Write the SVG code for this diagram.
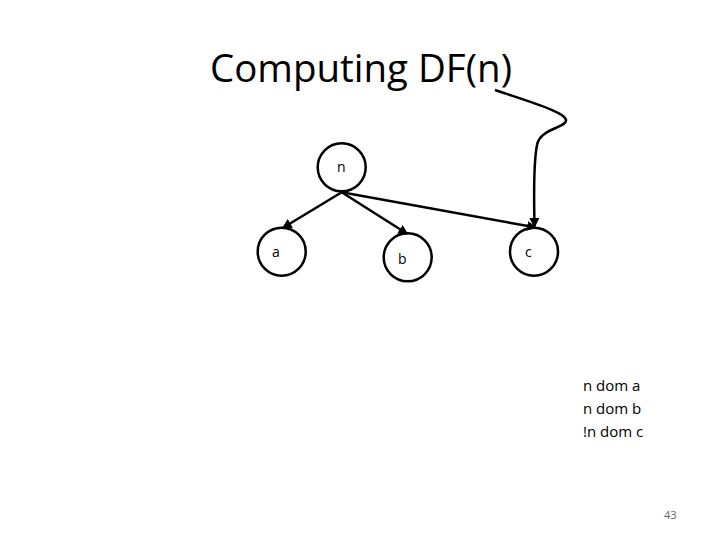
<svg xmlns="http://www.w3.org/2000/svg" width="720" height="540" viewBox="0 0 720 540">
<style>
.node{fill:none;stroke:#000;stroke-width:2.5}
.lbl{font-family:"Open Sans","DejaVu Sans",sans-serif;font-size:14px;fill:#000}
.edge{fill:none;stroke:#000;stroke-width:2.5}
.txt{font-family:"Open Sans","DejaVu Sans",sans-serif;font-size:15px;fill:#000}
</style>
<defs>
<marker id="ah" viewBox="0 0 10 10" refX="8" refY="5" markerWidth="4" markerHeight="4" orient="auto" markerUnits="strokeWidth">
<path d="M0,0 L10,5 L0,10 z" fill="#000"/>
</marker>
</defs>
<rect width="720" height="540" fill="#fff"/>
<text x="210" y="82" font-family="'Open Sans','DejaVu Sans',sans-serif" font-size="38" textLength="302" lengthAdjust="spacingAndGlyphs">Computing DF(n)</text>
<g id="edges">
<line class="edge" x1="341.7" y1="192.3" x2="283.5" y2="227.5" marker-end="url(#ah)"/>
<line class="edge" x1="341.7" y1="192.3" x2="406.7" y2="233.5" marker-end="url(#ah)"/>
<line class="edge" x1="341.7" y1="192.3" x2="535" y2="227.3" marker-end="url(#ah)"/>
<path class="edge" d="M495,90 C530,102 565,112 566,120 C567,128 540,128 537,145 C533,165 534,200 534.5,226" marker-end="url(#ah)"/>
</g>
<g id="node-n"><circle class="node" cx="341.7" cy="167.3" r="24"/><text class="lbl" x="337" y="172">n</text></g>
<g id="node-a"><circle class="node" cx="281.7" cy="251.7" r="24"/><text class="lbl" x="272" y="257">a</text></g>
<g id="node-b"><circle class="node" cx="407.7" cy="257.3" r="24"/><text class="lbl" x="398" y="264">b</text></g>
<g id="node-c"><circle class="node" cx="534" cy="251.7" r="24"/><text class="lbl" x="525" y="257">c</text></g>
<text class="txt" x="583" y="391">n dom a</text>
<text class="txt" x="583" y="414">n dom b</text>
<text class="txt" x="583" y="437">!n dom c</text>
<text x="664" y="519" font-family="'Open Sans','DejaVu Sans',sans-serif" font-size="11" fill="#666">43</text>
</svg>
